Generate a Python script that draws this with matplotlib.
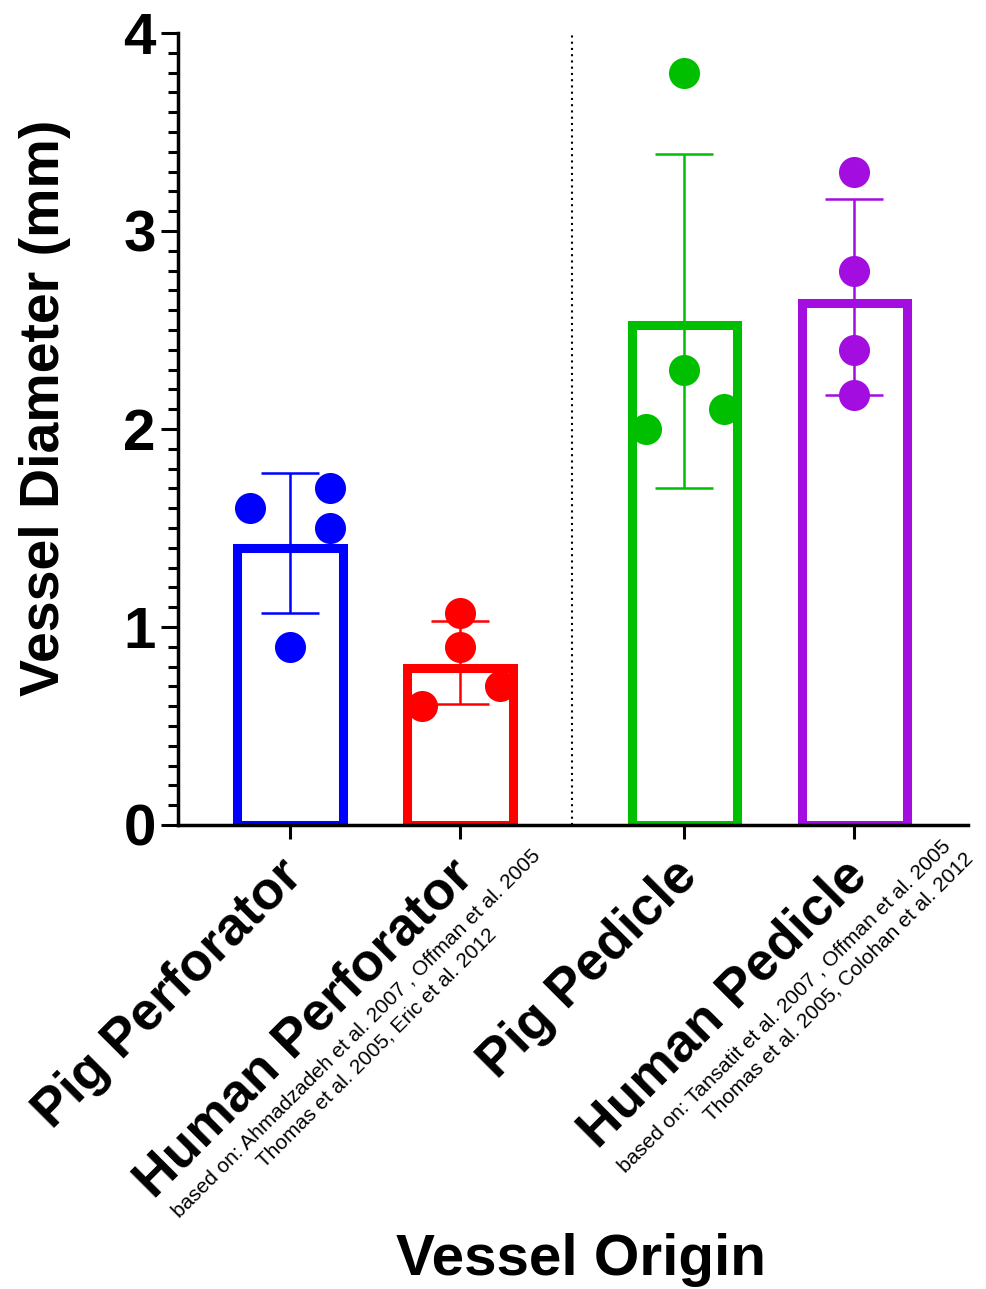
import numpy as np
import matplotlib
matplotlib.use('Agg')
import matplotlib.pyplot as plt
from matplotlib.ticker import MultipleLocator

plt.rcParams['font.family'] = ['Liberation Sans', 'DejaVu Sans']

# data
categories = ['Pig Perforator', 'Human Perforator', 'Pig Pedicle', 'Human Pedicle']
colors = ['#0000FF', '#FF0000', '#00BF00', '#A30DE0']
bar_tops = [1.40, 0.795, 2.525, 2.635]
err_lo = [1.07, 0.61, 1.70, 2.17]
err_hi = [1.78, 1.03, 3.39, 3.16]
points = [[1.6, 1.7, 1.5, 0.9],
          [1.07, 0.9, 0.7, 0.6],
          [3.8, 2.3, 2.0, 2.1],
          [3.3, 2.8, 2.4, 2.17]]
# horizontal spread of the dots inside each bar
jitter = [[-0.235, 0.235, 0.235, 0.0],
          [0.0, 0.0, 0.235, -0.225],
          [0.0, 0.0, -0.225, 0.235],
          [0.0, 0.0, 0.0, 0.0]]
refs = [None,
        ['based on: Ahmadzadeh et al. 2007 , Offman et al. 2005',
         'Thomas et al. 2005, Eric et al. 2012'],
        None,
        ['based on: Tansatit et al. 2007 , Offman et al. 2005',
         'Thomas et al. 2005, Colohan et al. 2012']]

xpos = np.array([0, 1, 2.32, 3.32])

fig = plt.figure(figsize=(9.86, 12.89), dpi=100)
ax = fig.add_axes([0.1805, 0.36, 0.8012, 0.6144])

ax.bar(xpos, bar_tops, width=0.618, facecolor='white', edgecolor=colors,
       linewidth=6.5, zorder=2)
for i in range(len(categories)):
    mid = (err_lo[i] + err_hi[i]) / 2
    half = (err_hi[i] - err_lo[i]) / 2
    ax.errorbar(xpos[i], mid, yerr=half, fmt='none', ecolor=colors[i],
                elinewidth=1.8, capsize=21, capthick=1.8, zorder=3)
    ax.scatter(xpos[i] + np.array(jitter[i]), points[i], s=500, color=colors[i],
               linewidths=0, zorder=4, clip_on=False)

# dotted separator between pig/human groups
ax.axvline((xpos[1] + xpos[2]) / 2, color='black', linestyle=(0, (1, 2)),
           lw=1.5, zorder=1)

ax.set_ylim(0, 4)
ax.set_xlim(-0.659, 3.988)
ax.spines['top'].set_visible(False)
ax.spines['right'].set_visible(False)
ax.spines['left'].set_linewidth(2.5)
ax.spines['bottom'].set_linewidth(2.5)

ax.yaxis.set_major_locator(MultipleLocator(1))
ax.yaxis.set_minor_locator(MultipleLocator(0.1))
ax.tick_params(axis='y', which='major', length=12, width=2.2, pad=4,
               labelsize=42)
ax.tick_params(axis='y', which='minor', length=7, width=2.2)
for lab in ax.get_yticklabels():
    lab.set_fontweight('bold')

ax.set_xticks(xpos)
ax.set_xticklabels([''] * len(xpos))
ax.tick_params(axis='x', length=10, width=2.2)

# rotated category labels (+ literature sources under the human ones)
for i, name in enumerate(categories):
    ax.annotate(name, xy=(xpos[i], 0), xycoords='data', xytext=(15, -53),
                textcoords='offset pixels', rotation=45,
                rotation_mode='anchor', ha='right', va='baseline',
                fontsize=38.5, fontweight='bold', annotation_clip=False)

sub_offsets = {1: [(-281, -393), (-196, -343)],
               3: [(-229, -348.5), (-143, -297)]}
for i, offs in sub_offsets.items():
    for line, off in zip(refs[i], offs):
        ax.annotate(line, xy=(xpos[i], 0), xycoords='data', xytext=off,
                    textcoords='offset pixels', rotation=45,
                    rotation_mode='anchor', ha='left', va='baseline',
                    fontsize=15, annotation_clip=False)

fig.text(0.0456, 0.684, 'Vessel Diameter (mm)', rotation=90, ha='center',
         va='center', fontsize=40, fontweight='bold')
fig.text(0.589, 0.0109, 'Vessel Origin', ha='center', va='baseline',
         fontsize=42, fontweight='bold')

fig.savefig('out.png', dpi=100)
